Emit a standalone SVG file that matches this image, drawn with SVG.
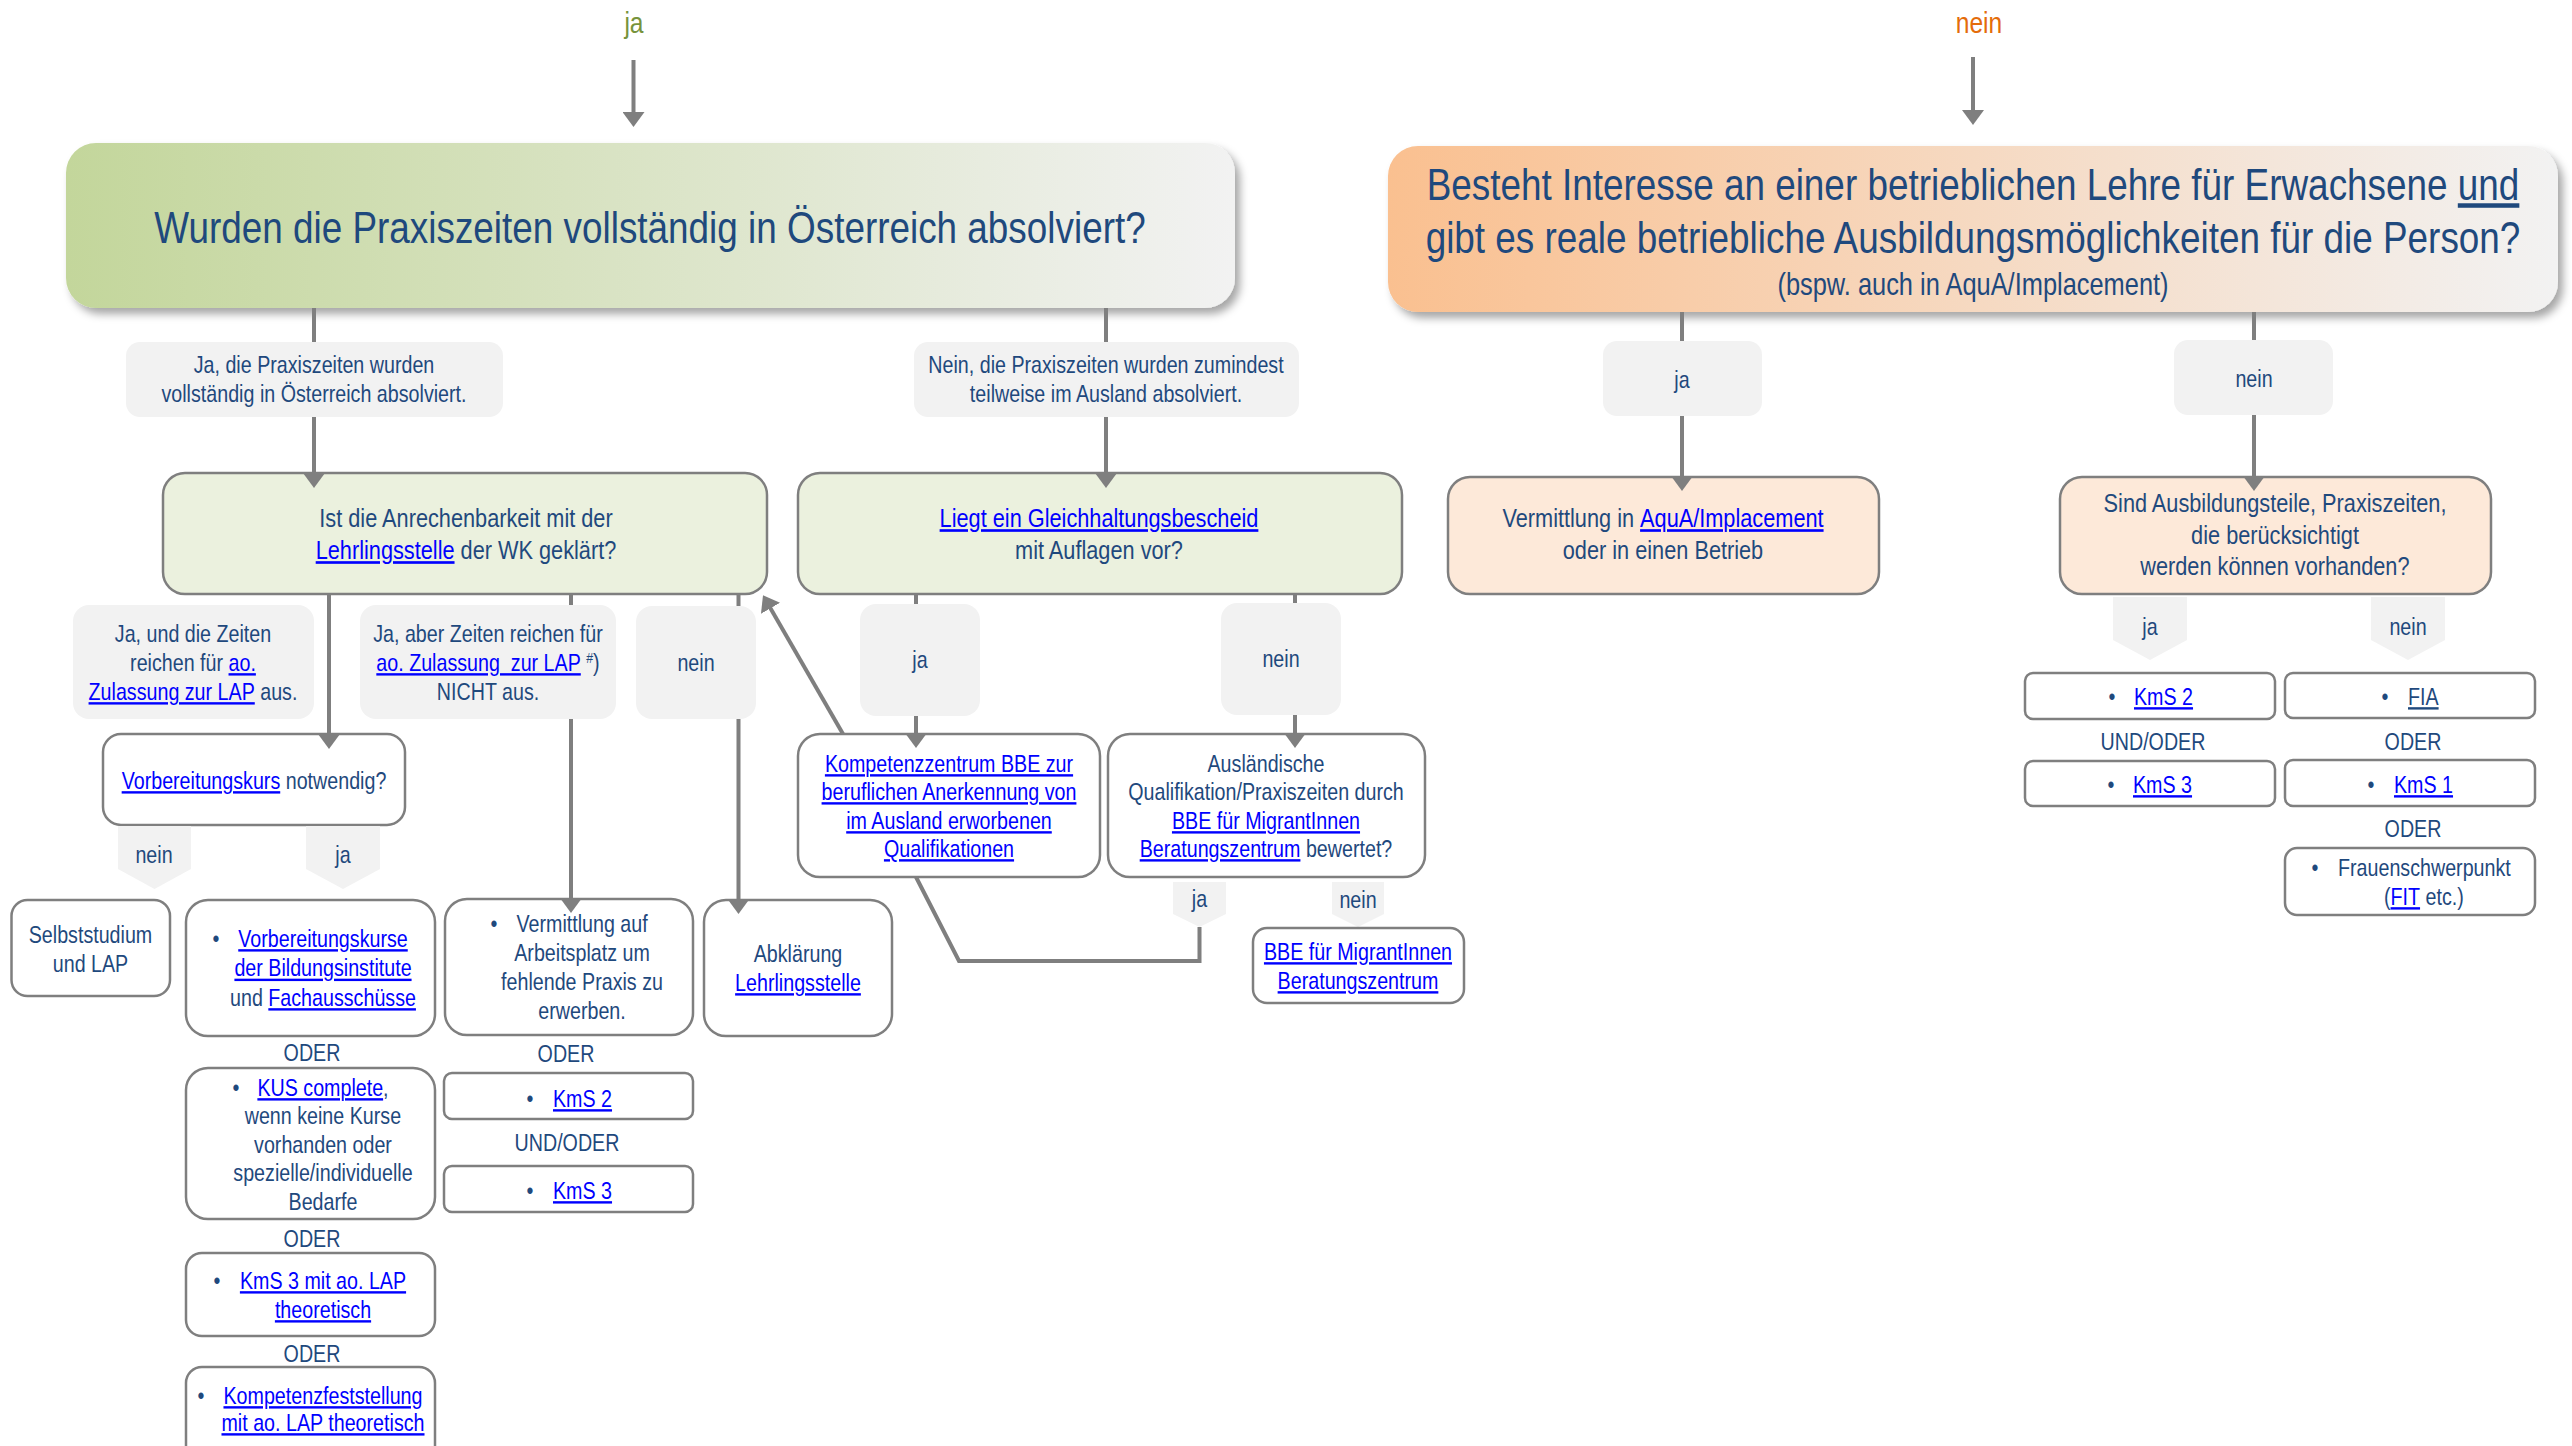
<svg xmlns="http://www.w3.org/2000/svg" width="2572" height="1446" viewBox="0 0 2572 1446">
<defs>
<linearGradient id="gG" x1="0" y1="0" x2="1" y2="0"><stop offset="0" stop-color="#C3D69B"/><stop offset="1" stop-color="#F2F2F2"/></linearGradient>
<linearGradient id="gO" x1="0" y1="0" x2="1" y2="0"><stop offset="0" stop-color="#FAC090"/><stop offset="1" stop-color="#F2F2F2"/></linearGradient>
<filter id="sh" x="-5%" y="-10%" width="115%" height="135%"><feDropShadow dx="5" dy="6" stdDeviation="4" flood-color="#000" flood-opacity="0.35"/></filter>
<marker id="ar" viewBox="0 -11 15 22" markerWidth="15" markerHeight="22" refX="5" refY="0" orient="auto" markerUnits="userSpaceOnUse"><path d="M0,-11 L15,0 L0,11 Z" fill="#7F7F7F"/></marker>
<style>
text{font-family:'Liberation Sans','Arial',sans-serif;font-size:24px;fill:#1F497D;transform-box:fill-box;transform-origin:center;transform:scaleX(0.82)}
text.s{transform-origin:left center}
.m{text-anchor:middle}
.lk{fill:#0000FF;text-decoration:underline}
.ul{text-decoration:underline}
.r2{font-size:26.5px}
.box{fill:#FFFFFF;stroke:#7F7F7F;stroke-width:2.5}
.gbox{fill:#EBF1DE;stroke:#7F7F7F;stroke-width:2.5}
.obox{fill:#FDE9D9;stroke:#7F7F7F;stroke-width:2.5}
.lab{fill:#F2F2F2}
.con{stroke:#7F7F7F;stroke-width:4;fill:none}
</style>
</defs>

<g id="top-ja"><text x="634" y="33" class="m" style="font-size:30px;fill:#77933C">ja</text></g>
<g id="top-nein"><text x="1979" y="33" class="m" style="font-size:30px;fill:#E46C0A">nein</text></g>

<g id="q-praxis">
<rect x="66" y="143" width="1169" height="165" rx="30" fill="url(#gG)" filter="url(#sh)"/>
<text x="650" y="243" class="m" style="font-size:45px">Wurden die Praxiszeiten vollständig in Österreich absolviert?</text>
</g>
<g id="q-interesse">
<rect x="1388" y="146" width="1170" height="166" rx="30" fill="url(#gO)" filter="url(#sh)"/>
<text x="1973" y="200" class="m" style="font-size:45px">Besteht Interesse an einer betrieblichen Lehre für Erwachsene <tspan class="ul">und</tspan></text>
<text x="1973" y="253" class="m" style="font-size:45px">gibt es reale betriebliche Ausbildungsmöglichkeiten für die Person?</text>
<text x="1973" y="295" class="m" style="font-size:31px">(bspw. auch in AquA/Implacement)</text>
</g>

<g id="lab-ja-oesterreich"><rect x="126" y="342" width="377" height="75" rx="14" class="lab"/>
<text x="314" y="373" class="m">Ja, die Praxiszeiten wurden</text><text x="314" y="402" class="m">vollständig in Österreich absolviert.</text></g>
<g id="lab-nein-ausland"><rect x="914" y="342" width="385" height="75" rx="14" class="lab"/>
<text x="1106" y="373" class="m">Nein, die Praxiszeiten wurden zumindest</text><text x="1106" y="402" class="m">teilweise im Ausland absolviert.</text></g>
<g id="lab-ja-r"><rect x="1603" y="341" width="159" height="75" rx="14" class="lab"/><text x="1682" y="388" class="m">ja</text></g>
<g id="lab-nein-r"><rect x="2174" y="340" width="159" height="75" rx="14" class="lab"/><text x="2254" y="387" class="m">nein</text></g>

<g id="q-anrechenbarkeit"><rect x="163" y="473" width="604" height="121" rx="22" class="gbox"/>
<text x="466" y="527" class="m r2">Ist die Anrechenbarkeit mit der</text>
<text x="466" y="559" class="m r2"><tspan class="lk">Lehrlingsstelle</tspan> der WK geklärt?</text></g>
<g id="q-gleichhaltung"><rect x="798" y="473" width="604" height="121" rx="22" class="gbox"/>
<text x="1099" y="527" class="m r2"><tspan class="lk">Liegt ein Gleichhaltungsbescheid</tspan></text>
<text x="1099" y="559" class="m r2">mit Auflagen vor?</text></g>
<g id="n-vermittlung-aqua"><rect x="1448" y="477" width="431" height="117" rx="22" class="obox"/>
<text x="1663" y="527" class="m r2">Vermittlung in <tspan class="lk">AquA/Implacement</tspan></text>
<text x="1663" y="559" class="m r2">oder in einen Betrieb</text></g>
<g id="q-ausbildungsteile"><rect x="2060" y="477" width="431" height="117" rx="22" class="obox"/>
<text x="2275" y="512" class="m r2">Sind Ausbildungsteile, Praxiszeiten,</text>
<text x="2275" y="544" class="m r2">die berücksichtigt</text>
<text x="2275" y="575" class="m r2">werden können vorhanden?</text></g>

<g id="lab-ja-zeiten"><rect x="73" y="605" width="241" height="114" rx="16" class="lab"/>
<text x="193" y="642" class="m">Ja, und die Zeiten</text>
<text x="193" y="671" class="m">reichen für <tspan class="lk">ao.</tspan></text>
<text x="193" y="700" class="m"><tspan class="lk">Zulassung zur LAP</tspan> aus.</text></g>
<g id="lab-ja-aber"><rect x="360" y="605" width="256" height="114" rx="16" class="lab"/>
<text x="488" y="642" class="m">Ja, aber Zeiten reichen für</text>
<text x="488" y="671" class="m"><tspan class="lk">ao. Zulassung&#160; zur LAP</tspan> <tspan style="font-size:15px" dy="-8">#</tspan><tspan dy="8">)</tspan></text>
<text x="488" y="700" class="m">NICHT aus.</text></g>
<g id="lab-nein-anr"><rect x="636" y="606" width="120" height="113" rx="16" class="lab"/><text x="696" y="671" class="m">nein</text></g>
<g id="lab-ja-gl"><rect x="860" y="604" width="120" height="112" rx="16" class="lab"/><text x="920" y="668" class="m">ja</text></g>
<g id="lab-nein-gl"><rect x="1221" y="603" width="120" height="112" rx="16" class="lab"/><text x="1281" y="667" class="m">nein</text></g>

<g id="q-vorbereitungskurs"><rect x="103" y="734" width="302" height="91" rx="18" class="box"/>
<text x="254" y="789" class="m"><tspan class="lk">Vorbereitungskurs</tspan> notwendig?</text></g>
<g id="n-kompetenzzentrum"><rect x="798" y="734" width="302" height="143" rx="22" class="box"/>
<text x="949" y="772" class="m lk">Kompetenzzentrum BBE zur</text>
<text x="949" y="800" class="m lk">beruflichen Anerkennung von</text>
<text x="949" y="829" class="m lk">im Ausland erworbenen</text>
<text x="949" y="857" class="m lk">Qualifikationen</text></g>
<g id="q-auslaendische"><rect x="1108" y="734" width="317" height="143" rx="22" class="box"/>
<text x="1266" y="772" class="m">Ausländische</text>
<text x="1266" y="800" class="m">Qualifikation/Praxiszeiten durch</text>
<text x="1266" y="829" class="m lk">BBE für MigrantInnen</text>
<text x="1266" y="857" class="m"><tspan class="lk">Beratungszentrum</tspan> bewertet?</text></g>

<g id="tab-nein-vk"><path d="M118,826 H191 V869 L154.5,889 L118,869 Z" class="lab"/><text x="154" y="863" class="m">nein</text></g>
<g id="tab-ja-vk"><path d="M306,826 H380 V869 L343,889 L306,869 Z" class="lab"/><text x="343" y="863" class="m">ja</text></g>
<g id="tab-ja-au"><path d="M1173,882 H1226 V914 L1199.5,927 L1173,914 Z" class="lab"/><text x="1199.5" y="907" class="m">ja</text></g>
<g id="tab-nein-au"><path d="M1332,882 H1384 V914 L1358,927 L1332,914 Z" class="lab"/><text x="1358" y="908" class="m">nein</text></g>
<g id="tab-ja-r"><path d="M2113,597 H2187 V640 L2150,660 L2113,640 Z" class="lab"/><text x="2150" y="635" class="m">ja</text></g>
<g id="tab-nein-r"><path d="M2371,597 H2445 V640 L2408,660 L2371,640 Z" class="lab"/><text x="2408" y="635" class="m">nein</text></g>

<g id="n-selbststudium"><rect x="11.5" y="900" width="158.5" height="96" rx="16" class="box"/>
<text x="90.5" y="943" class="m">Selbststudium</text><text x="90.5" y="972" class="m">und LAP</text></g>
<g id="n-vorbereitungskurse"><rect x="186" y="900" width="249" height="136" rx="22" class="box"/>
<text x="216" y="947" class="m">•</text>
<text x="323" y="947" class="m lk">Vorbereitungskurse</text>
<text x="323" y="976.5" class="m lk">der Bildungsinstitute</text>
<text x="323" y="1006" class="m">und <tspan class="lk">Fachausschüsse</tspan></text></g>
<g id="t-oder-1"><text x="312" y="1061" class="m">ODER</text></g>
<g id="n-kus"><rect x="186" y="1068" width="249" height="151" rx="22" class="box"/>
<text x="236" y="1096" class="m">•</text>
<text x="323" y="1096" class="m"><tspan class="lk">KUS complete</tspan>,</text>
<text x="323" y="1124.5" class="m">wenn keine Kurse</text>
<text x="323" y="1153" class="m">vorhanden oder</text>
<text x="323" y="1181.5" class="m">spezielle/individuelle</text>
<text x="323" y="1210" class="m">Bedarfe</text></g>
<g id="t-oder-2"><text x="312" y="1247" class="m">ODER</text></g>
<g id="n-kms3-lap"><rect x="186" y="1253" width="249" height="83" rx="16" class="box"/>
<text x="217" y="1289" class="m">•</text>
<text x="323" y="1289" class="m lk">KmS 3 mit ao. LAP</text>
<text x="323" y="1318" class="m lk">theoretisch</text></g>
<g id="t-oder-3"><text x="312" y="1362" class="m">ODER</text></g>
<g id="n-kompetenzfeststellung"><rect x="186" y="1367" width="249" height="95" rx="16" class="box"/>
<text x="201" y="1404" class="m">•</text>
<text x="323" y="1404" class="m lk">Kompetenzfeststellung</text>
<text x="323" y="1431" class="m lk">mit ao. LAP theoretisch</text></g>

<g id="n-vermittlung-arbeitsplatz"><rect x="445" y="899" width="248" height="136" rx="22" class="box"/>
<text x="494" y="932" class="m">•</text>
<text x="582" y="932" class="m">Vermittlung auf</text>
<text x="582" y="961" class="m">Arbeitsplatz um</text>
<text x="582" y="990" class="m">fehlende Praxis zu</text>
<text x="582" y="1019" class="m">erwerben.</text></g>
<g id="t-oder-m"><text x="566" y="1062" class="m">ODER</text></g>
<g id="n-kms2-m"><rect x="444" y="1073" width="249" height="46" rx="8" class="box"/>
<text x="530" y="1107" class="m">•</text><text x="553" y="1107" class="s lk">KmS 2</text></g>
<g id="t-undoder-m"><text x="567" y="1151" class="m">UND/ODER</text></g>
<g id="n-kms3-m"><rect x="444" y="1166" width="249" height="46" rx="8" class="box"/>
<text x="530" y="1199" class="m">•</text><text x="553" y="1199" class="s lk">KmS 3</text></g>

<g id="n-abklaerung"><rect x="704" y="900" width="188" height="136" rx="22" class="box"/>
<text x="798" y="962" class="m">Abklärung</text><text x="798" y="991" class="m lk">Lehrlingsstelle</text></g>
<g id="n-bbe"><rect x="1253" y="928" width="211" height="75" rx="14" class="box"/>
<text x="1358" y="960" class="m lk">BBE für MigrantInnen</text><text x="1358" y="989" class="m lk">Beratungszentrum</text></g>

<g id="n-kms2-r"><rect x="2025" y="673" width="250" height="46" rx="8" class="box"/>
<text x="2112" y="705" class="m">•</text><text x="2134" y="705" class="s lk">KmS 2</text></g>
<g id="t-undoder-r"><text x="2153" y="750" class="m">UND/ODER</text></g>
<g id="n-kms3-r"><rect x="2025" y="761" width="250" height="45" rx="8" class="box"/>
<text x="2111" y="793" class="m">•</text><text x="2133" y="793" class="s lk">KmS 3</text></g>
<g id="n-fia"><rect x="2285" y="673" width="250" height="45" rx="8" class="box"/>
<text x="2385" y="705" class="m">•</text><text x="2408" y="705" class="s ul">FIA</text></g>
<g id="t-oder-r1"><text x="2413" y="750" class="m">ODER</text></g>
<g id="n-kms1"><rect x="2285" y="760" width="250" height="46" rx="8" class="box"/>
<text x="2371" y="793" class="m">•</text><text x="2394" y="793" class="s lk">KmS 1</text></g>
<g id="t-oder-r2"><text x="2413" y="837" class="m">ODER</text></g>
<g id="n-frauen"><rect x="2285" y="848" width="250" height="67" rx="12" class="box"/>
<text x="2315" y="876" class="m">•</text><text x="2338" y="876" class="s">Frauenschwerpunkt</text>
<text x="2384" y="905" class="s">(<tspan class="lk">FIT</tspan> etc.)</text></g>

<g id="connectors">
<line x1="633.5" y1="60" x2="633.5" y2="117" class="con" marker-end="url(#ar)"/>
<line x1="1973" y1="57" x2="1973" y2="115" class="con" marker-end="url(#ar)"/>
<line x1="314" y1="308" x2="314" y2="342" class="con"/>
<line x1="314" y1="417" x2="314" y2="478" class="con" marker-end="url(#ar)"/>
<line x1="1106" y1="308" x2="1106" y2="342" class="con"/>
<line x1="1106" y1="417" x2="1106" y2="478" class="con" marker-end="url(#ar)"/>
<line x1="1682" y1="312" x2="1682" y2="341" class="con"/>
<line x1="1682" y1="416" x2="1682" y2="481" class="con" marker-end="url(#ar)"/>
<line x1="2254" y1="312" x2="2254" y2="340" class="con"/>
<line x1="2254" y1="415" x2="2254" y2="481" class="con" marker-end="url(#ar)"/>
<line x1="329" y1="594" x2="329" y2="739" class="con" marker-end="url(#ar)"/>
<line x1="571" y1="594" x2="571" y2="605" class="con"/>
<line x1="571" y1="719" x2="571" y2="903" class="con" marker-end="url(#ar)"/>
<line x1="738.5" y1="594" x2="738.5" y2="606" class="con"/>
<line x1="738.5" y1="719" x2="738.5" y2="904" class="con" marker-end="url(#ar)"/>
<line x1="843" y1="734" x2="768" y2="604" class="con" marker-end="url(#ar)"/>
<line x1="916" y1="594" x2="916" y2="604" class="con"/>
<line x1="916" y1="716" x2="916" y2="738" class="con" marker-end="url(#ar)"/>
<line x1="1295" y1="594" x2="1295" y2="603" class="con"/>
<line x1="1295" y1="715" x2="1295" y2="738" class="con" marker-end="url(#ar)"/>
<polyline points="1199.5,927 1199.5,961 959,961 916,877" class="con"/>
</g>
</svg>
